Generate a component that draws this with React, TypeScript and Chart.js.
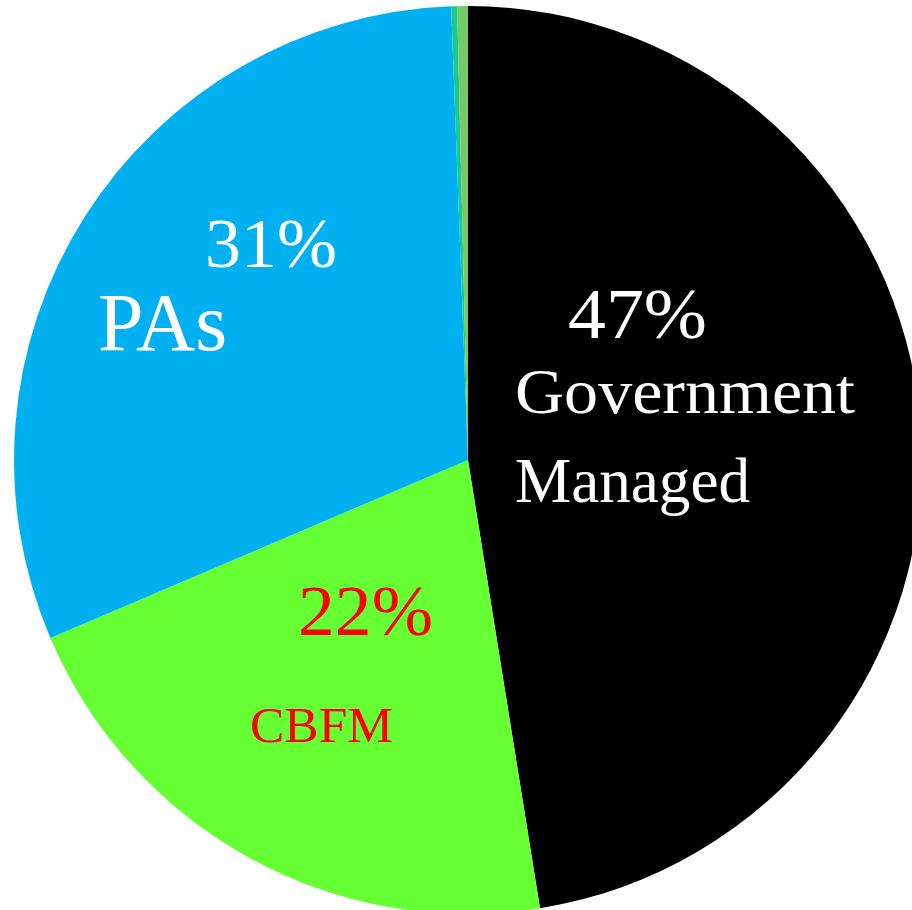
import React, { useEffect, useRef } from "react";
import { Chart, registerables } from "chart.js";

Chart.register(...registerables);

const categories = ["Government Managed", "CBFM", "PAs", "Other A", "Other B"];
const shares = [47.46, 21.12, 30.82, 0.21, 0.38];
const sliceColors = ["#000000", "#66FF33", "#00B0F0", "#1CC98F", "#78C86A"];

// text labels: offsets (reference px) from the pie centre, left x & baseline y
const labelTexts = ["31%", "PAs", "47%", "Government", "Managed", "22%", "CBFM"];
const labelColors = ["#FFFFFF", "#FFFFFF", "#FFFFFF", "#FFFFFF", "#FFFFFF", "#FF0000", "#FF0000"];

type Lay = { dx: number; dy: number; size: number; w: number };
const layout: Lay[] = [
  { dx: 205 - 468, dy: 267 - 460, size: 70, w: 132 },
  { dx: 98 - 468, dy: 350 - 460, size: 82, w: 129 },
  { dx: 568 - 468, dy: 338 - 460, size: 72, w: 139 },
  { dx: 515 - 468, dy: 413 - 460, size: 64, w: 340 },
  { dx: 515 - 468, dy: 502 - 460, size: 64, w: 235 },
  { dx: 298 - 468, dy: 635 - 460, size: 72, w: 135 },
  { dx: 250 - 468, dy: 742 - 460, size: 51, w: 143 },
];

const FAMILY = '"Liberation Serif", "Times New Roman", "DejaVu Serif", serif';

const labelPlugin = {
  id: "sliceLabels",
  afterDraw(chart: any) {
    const arc = chart.getDatasetMeta(0).data[0];
    if (!arc) return;
    const cx = arc.x;
    const cy = arc.y;
    const s = arc.outerRadius / 454;
    const ctx = chart.ctx as CanvasRenderingContext2D;
    ctx.save();
    ctx.textAlign = "left";
    ctx.textBaseline = "alphabetic";
    labelTexts.forEach((t, i) => {
      const L = layout[i];
      ctx.font = `${Math.round(L.size * s)}px ${FAMILY}`;
      ctx.fillStyle = labelColors[i];
      const mw = ctx.measureText(t).width;
      const sx = (L.w * s) / mw;
      ctx.save();
      ctx.translate(cx + L.dx * s, cy + L.dy * s);
      ctx.scale(sx, 1);
      ctx.fillText(t, 0, 0);
      ctx.restore();
    });
    ctx.restore();
  },
};

export default function App() {
  const ref = useRef<HTMLCanvasElement | null>(null);
  useEffect(() => {
    if (!ref.current) return;
    let chart: Chart | null = null;
    let cancelled = false;
    const make = () => {
      if (cancelled || !ref.current) return;
      chart = new Chart(ref.current, {
        type: "pie",
        data: {
          labels: categories,
          datasets: [
            {
              data: shares,
              backgroundColor: sliceColors,
              borderWidth: 0,
            },
          ],
        },
        options: {
          responsive: false,
          maintainAspectRatio: false,
          animation: false,
          layout: { padding: 0 },
          plugins: { legend: { display: false }, tooltip: { enabled: false } },
        },
        plugins: [labelPlugin],
      });
    };
    const fonts: any = (document as any).fonts;
    if (fonts && fonts.load) {
      fonts
        .load('64px "Liberation Serif"')
        .then(make, make);
    } else {
      make();
    }
    return () => {
      cancelled = true;
      if (chart) chart.destroy();
    };
  }, []);
  return (
    <div
      style={{
        position: "fixed",
        left: 0,
        top: 0,
        width: 912,
        height: 910,
        overflow: "hidden",
        background: "#FFFFFF",
      }}
    >
      <span
        style={{
          position: "absolute",
          left: -1000,
          top: 0,
          fontFamily: FAMILY,
          fontSize: 20,
        }}
      >
        Government
      </span>
      <canvas
        ref={ref}
        width={908}
        height={908}
        style={{ position: "absolute", left: 14, top: 6, width: 908, height: 908 }}
      />
    </div>
  );
}
